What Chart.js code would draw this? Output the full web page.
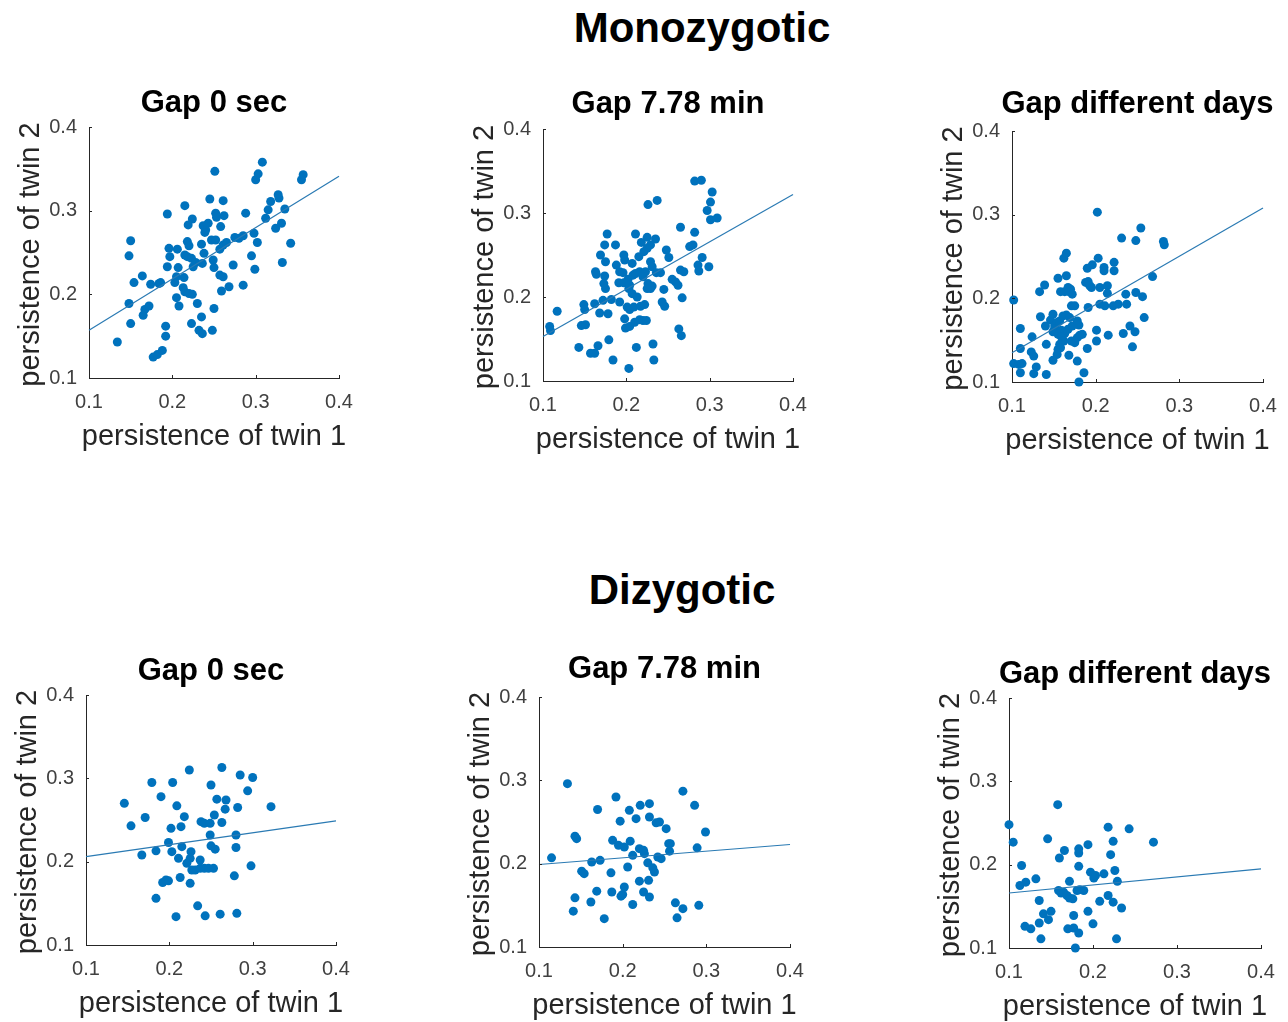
<!DOCTYPE html>
<html><head><meta charset="utf-8">
<script src="https://cdn.jsdelivr.net/npm/chart.js@4.4.1/dist/chart.umd.min.js"></script>
<style>
html,body{margin:0;padding:0;background:#fff;width:1288px;height:1022px;overflow:hidden;position:relative;font-family:"Liberation Sans",Arial,sans-serif;}
.main{position:absolute;width:600px;text-align:center;font-weight:bold;font-size:42px;line-height:42px;color:#000;white-space:nowrap;}
.panel{position:absolute;}
</style></head><body>
<div class="main" style="left:402px;top:7px">Monozygotic</div>
<div class="main" style="left:382px;top:569px">Dizygotic</div>
<script>
// ---------- data ----------
const tickVals = [0.1, 0.2, 0.3, 0.4];
const tickLabels = ['0.1', '0.2', '0.3', '0.4'];
const panelTitles = ['Gap 0 sec', 'Gap 7.78 min', 'Gap different days', 'Gap 0 sec', 'Gap 7.78 min', 'Gap different days'];
const xLabel = 'persistence of twin 1';
const yLabel = 'persistence of twin 2';
const fitX = [0.1, 0.4];

const mzGap0 = [[0.134,0.143],[0.150,0.264],[0.148,0.246],[0.154,0.214],[0.164,0.222],[0.148,0.189],[0.150,0.165],[0.165,0.175],[0.167,0.182],[0.172,0.186],[0.174,0.212],[0.184,0.213],[0.186,0.214],[0.194,0.296],[0.192,0.162],[0.192,0.150],[0.177,0.125],[0.182,0.128],[0.188,0.133],[0.196,0.255],[0.206,0.254],[0.197,0.245],[0.194,0.233],[0.207,0.232],[0.203,0.214],[0.205,0.221],[0.214,0.220],[0.205,0.196],[0.208,0.186],[0.213,0.208],[0.215,0.203],[0.220,0.201],[0.224,0.200],[0.230,0.189],[0.215,0.306],[0.224,0.290],[0.219,0.283],[0.218,0.263],[0.220,0.258],[0.215,0.247],[0.218,0.245],[0.223,0.243],[0.228,0.238],[0.225,0.233],[0.236,0.237],[0.235,0.260],[0.238,0.249],[0.237,0.282],[0.240,0.277],[0.239,0.274],[0.243,0.285],[0.245,0.314],[0.251,0.347],[0.252,0.297],[0.253,0.292],[0.258,0.281],[0.262,0.294],[0.261,0.312],[0.247,0.265],[0.252,0.265],[0.249,0.241],[0.250,0.232],[0.257,0.223],[0.261,0.221],[0.257,0.254],[0.261,0.259],[0.265,0.262],[0.273,0.235],[0.268,0.209],[0.259,0.204],[0.223,0.165],[0.235,0.173],[0.232,0.157],[0.236,0.153],[0.248,0.157],[0.250,0.183],[0.275,0.268],[0.280,0.267],[0.285,0.270],[0.288,0.297],[0.285,0.211],[0.295,0.246],[0.298,0.273],[0.302,0.262],[0.299,0.230],[0.300,0.337],[0.303,0.344],[0.308,0.358],[0.312,0.291],[0.315,0.301],[0.318,0.311],[0.327,0.319],[0.328,0.315],[0.324,0.279],[0.331,0.285],[0.335,0.302],[0.342,0.261],[0.332,0.238],[0.355,0.337],[0.357,0.343]];
const mzGap7 = [[0.108,0.165],[0.109,0.160],[0.117,0.183],[0.146,0.166],[0.151,0.167],[0.143,0.140],[0.157,0.133],[0.162,0.133],[0.166,0.142],[0.149,0.191],[0.150,0.185],[0.162,0.192],[0.168,0.181],[0.178,0.180],[0.179,0.149],[0.184,0.125],[0.172,0.196],[0.182,0.197],[0.192,0.194],[0.163,0.230],[0.164,0.227],[0.174,0.225],[0.173,0.216],[0.175,0.210],[0.169,0.250],[0.175,0.242],[0.174,0.262],[0.177,0.275],[0.187,0.262],[0.188,0.238],[0.192,0.230],[0.196,0.229],[0.197,0.250],[0.198,0.244],[0.207,0.240],[0.191,0.217],[0.197,0.217],[0.202,0.221],[0.204,0.214],[0.208,0.226],[0.203,0.210],[0.207,0.204],[0.213,0.200],[0.211,0.228],[0.216,0.230],[0.211,0.275],[0.218,0.265],[0.225,0.271],[0.235,0.269],[0.229,0.262],[0.225,0.258],[0.221,0.254],[0.215,0.248],[0.229,0.242],[0.231,0.236],[0.223,0.230],[0.220,0.224],[0.226,0.216],[0.231,0.213],[0.229,0.210],[0.225,0.210],[0.236,0.229],[0.241,0.229],[0.226,0.310],[0.237,0.315],[0.248,0.256],[0.251,0.247],[0.245,0.209],[0.243,0.194],[0.246,0.189],[0.201,0.188],[0.204,0.185],[0.209,0.188],[0.217,0.189],[0.222,0.191],[0.198,0.174],[0.199,0.163],[0.204,0.165],[0.210,0.170],[0.216,0.173],[0.220,0.172],[0.224,0.172],[0.212,0.140],[0.203,0.115],[0.232,0.144],[0.233,0.125],[0.255,0.221],[0.259,0.218],[0.262,0.214],[0.265,0.232],[0.269,0.230],[0.265,0.283],[0.282,0.277],[0.276,0.260],[0.280,0.262],[0.267,0.199],[0.263,0.162],[0.266,0.154],[0.286,0.238],[0.287,0.231],[0.291,0.247],[0.299,0.236],[0.282,0.338],[0.290,0.339],[0.303,0.325],[0.301,0.313],[0.297,0.303],[0.301,0.292],[0.309,0.294]];
const mzGapDays = [[0.102,0.198],[0.102,0.122],[0.108,0.121],[0.112,0.122],[0.110,0.111],[0.110,0.140],[0.110,0.164],[0.124,0.154],[0.123,0.136],[0.126,0.131],[0.126,0.110],[0.129,0.118],[0.141,0.109],[0.141,0.145],[0.133,0.208],[0.139,0.216],[0.134,0.178],[0.140,0.167],[0.146,0.174],[0.149,0.181],[0.149,0.160],[0.151,0.167],[0.154,0.171],[0.157,0.173],[0.161,0.179],[0.165,0.180],[0.169,0.177],[0.155,0.224],[0.165,0.227],[0.158,0.208],[0.163,0.208],[0.167,0.213],[0.170,0.211],[0.172,0.205],[0.168,0.208],[0.162,0.248],[0.165,0.254],[0.171,0.191],[0.175,0.191],[0.151,0.163],[0.155,0.157],[0.159,0.162],[0.163,0.158],[0.167,0.163],[0.172,0.167],[0.178,0.173],[0.180,0.168],[0.159,0.154],[0.162,0.149],[0.157,0.145],[0.155,0.139],[0.158,0.141],[0.154,0.133],[0.149,0.126],[0.168,0.132],[0.171,0.149],[0.175,0.147],[0.178,0.153],[0.181,0.156],[0.184,0.157],[0.178,0.125],[0.186,0.111],[0.180,0.100],[0.190,0.140],[0.191,0.189],[0.188,0.219],[0.191,0.220],[0.190,0.236],[0.196,0.240],[0.203,0.248],[0.195,0.213],[0.193,0.215],[0.205,0.213],[0.214,0.215],[0.214,0.206],[0.202,0.303],[0.210,0.237],[0.210,0.233],[0.222,0.243],[0.222,0.233],[0.205,0.193],[0.211,0.191],[0.221,0.191],[0.227,0.193],[0.237,0.193],[0.201,0.162],[0.201,0.149],[0.215,0.156],[0.233,0.158],[0.241,0.167],[0.247,0.160],[0.244,0.142],[0.231,0.272],[0.248,0.269],[0.254,0.284],[0.236,0.205],[0.248,0.207],[0.256,0.202],[0.258,0.177],[0.268,0.226],[0.281,0.268],[0.282,0.264]];
const dzGap0 = [[0.146,0.270],[0.154,0.243],[0.171,0.253],[0.167,0.208],[0.179,0.295],[0.190,0.278],[0.184,0.213],[0.204,0.295],[0.209,0.267],[0.218,0.254],[0.214,0.242],[0.202,0.240],[0.199,0.223],[0.203,0.212],[0.215,0.218],[0.211,0.204],[0.224,0.310],[0.226,0.212],[0.225,0.204],[0.221,0.198],[0.227,0.190],[0.231,0.190],[0.237,0.202],[0.238,0.248],[0.242,0.246],[0.249,0.246],[0.250,0.292],[0.249,0.232],[0.250,0.219],[0.255,0.215],[0.237,0.192],[0.242,0.192],[0.247,0.192],[0.253,0.192],[0.254,0.256],[0.263,0.313],[0.257,0.275],[0.268,0.274],[0.267,0.263],[0.263,0.247],[0.282,0.265],[0.280,0.232],[0.280,0.217],[0.278,0.183],[0.285,0.304],[0.294,0.285],[0.300,0.301],[0.298,0.195],[0.322,0.266],[0.192,0.175],[0.196,0.178],[0.199,0.177],[0.213,0.181],[0.225,0.174],[0.184,0.156],[0.208,0.134],[0.234,0.147],[0.243,0.135],[0.261,0.137],[0.281,0.138]];
const dzGap7 = [[0.115,0.207],[0.134,0.296],[0.143,0.233],[0.145,0.230],[0.151,0.191],[0.154,0.188],[0.143,0.159],[0.141,0.143],[0.162,0.154],[0.169,0.167],[0.163,0.202],[0.173,0.204],[0.170,0.265],[0.178,0.134],[0.186,0.189],[0.187,0.166],[0.188,0.228],[0.192,0.280],[0.195,0.222],[0.202,0.220],[0.209,0.227],[0.197,0.251],[0.208,0.264],[0.216,0.254],[0.221,0.270],[0.232,0.272],[0.232,0.256],[0.240,0.249],[0.244,0.250],[0.252,0.242],[0.212,0.210],[0.220,0.218],[0.225,0.216],[0.226,0.212],[0.230,0.201],[0.242,0.208],[0.246,0.206],[0.255,0.224],[0.257,0.224],[0.256,0.215],[0.206,0.196],[0.236,0.195],[0.238,0.190],[0.202,0.172],[0.200,0.163],[0.198,0.161],[0.212,0.151],[0.220,0.179],[0.231,0.180],[0.225,0.166],[0.232,0.160],[0.272,0.287],[0.286,0.270],[0.299,0.238],[0.289,0.219],[0.263,0.153],[0.272,0.146],[0.265,0.135],[0.291,0.150]];
const dzGapDays = [[0.100,0.248],[0.105,0.227],[0.115,0.199],[0.113,0.175],[0.120,0.179],[0.132,0.183],[0.119,0.126],[0.126,0.123],[0.136,0.130],[0.138,0.111],[0.136,0.157],[0.141,0.141],[0.147,0.134],[0.150,0.144],[0.146,0.231],[0.158,0.272],[0.160,0.208],[0.166,0.217],[0.172,0.180],[0.159,0.169],[0.162,0.166],[0.165,0.167],[0.169,0.163],[0.172,0.160],[0.176,0.159],[0.181,0.169],[0.184,0.170],[0.189,0.169],[0.183,0.219],[0.183,0.214],[0.183,0.198],[0.194,0.224],[0.197,0.191],[0.201,0.184],[0.203,0.187],[0.213,0.189],[0.177,0.139],[0.170,0.123],[0.177,0.124],[0.183,0.118],[0.179,0.100],[0.194,0.144],[0.200,0.129],[0.208,0.156],[0.218,0.163],[0.224,0.155],[0.234,0.148],[0.218,0.245],[0.224,0.228],[0.221,0.212],[0.226,0.193],[0.229,0.180],[0.243,0.243],[0.272,0.227],[0.228,0.111]];

const fitMzGap0 = [0.157, 0.341];
const fitMzGap7 = [0.153, 0.322];
const fitMzGapDays = [0.135, 0.308];
const fitDzGap0 = [0.206, 0.249];
const fitDzGap7 = [0.199, 0.223];
const fitDzGapDays = [0.166, 0.195];

// ---------- layout (plot-area boxes, px) ----------
const boxes = [
  {L: 89,   T: 127, W: 250, H: 251, gap: 13.3},
  {L: 543,  T: 129, W: 250, H: 252, gap: 13.5},
  {L: 1012, T: 131, W: 251, H: 251, gap: 15.7},
  {L: 86,   T: 695, W: 250, H: 250, gap: 12.5},
  {L: 539,  T: 697, W: 251, H: 250, gap: 16.7},
  {L: 1009, T: 698, W: 252, H: 250, gap: 12.5}
];
const seriesList = [mzGap0, mzGap7, mzGapDays, dzGap0, dzGap7, dzGapDays];
const fitList = [fitMzGap0, fitMzGap7, fitMzGapDays, fitDzGap0, fitDzGap7, fitDzGapDays];

const FONT = "'Liberation Sans', Arial, sans-serif";
const SIDE = 90, TOPH = 50, BOTH = 80;
const DOT = '#0072BD', FITC = '#2a7ab3', AXC = '#262626';
const TSIZE = 31, TLH = TSIZE * 1.2;
const LSIZE = 29;

const inwardTicks = {
  id: 'inwardTicks',
  afterDraw(chart) {
    const ctx = chart.ctx, a = chart.chartArea, xs = chart.scales.x, ys = chart.scales.y;
    ctx.save();
    ctx.strokeStyle = AXC; ctx.lineWidth = 1;
    ctx.beginPath();
    xs.ticks.forEach(t => { const p = Math.round(xs.getPixelForValue(t.value)) + 0.5; ctx.moveTo(p, a.bottom); ctx.lineTo(p, a.bottom - 3); });
    ys.ticks.forEach(t => { const p = Math.round(ys.getPixelForValue(t.value)) + 0.5; ctx.moveTo(a.left, p); ctx.lineTo(a.left + 3, p); });
    ctx.stroke();
    ctx.restore();
  }
};

// axis titles drawn without the scale-length width limit (reference labels are wider than the axes)
const axisLabels = {
  id: 'axisLabels',
  afterDraw(chart) {
    const ctx = chart.ctx, a = chart.chartArea;
    ctx.save();
    ctx.fillStyle = AXC;
    ctx.font = LSIZE + 'px ' + FONT;
    ctx.textAlign = 'center';
    ctx.textBaseline = 'alphabetic';
    ctx.fillText(xLabel, (a.left + a.right) / 2, a.bottom + 67);
    ctx.translate(a.left - 50, (a.top + a.bottom) / 2 + 2);
    ctx.rotate(-Math.PI / 2);
    ctx.fillText(yLabel, 0, 0);
    ctx.restore();
  }
};

function setTicks(s) { s.ticks = tickVals.map(v => ({value: v})); }

boxes.forEach((b, i) => {
  const div = document.createElement('div');
  div.className = 'panel';
  div.style.left = (b.L - SIDE) + 'px';
  div.style.top = (b.T - TOPH) + 'px';
  div.style.width = (b.W + 2 * SIDE) + 'px';
  div.style.height = (b.H + TOPH + BOTH) + 'px';
  const cv = document.createElement('canvas');
  div.appendChild(cv);
  document.body.appendChild(div);

  const mid = TOPH - b.gap - 0.3465 * TSIZE;
  const pt = mid - TLH / 2;
  const pb = TOPH - TLH - pt;

  new Chart(cv, {
    type: 'scatter',
    data: {
      datasets: [
        {
          type: 'scatter',
          data: seriesList[i].map(p => ({x: p[0], y: p[1]})),
          pointRadius: 4.5, pointHoverRadius: 4.5,
          pointBackgroundColor: DOT, pointBorderWidth: 0, pointBorderColor: DOT,
          clip: false, order: 1
        },
        {
          type: 'line',
          data: fitX.map((x, k) => ({x: x, y: fitList[i][k]})),
          borderColor: FITC, borderWidth: 1.2, pointRadius: 0, fill: false,
          showLine: true, clip: false, order: 0
        }
      ]
    },
    options: {
      responsive: true, maintainAspectRatio: false, animation: false,
      devicePixelRatio: 1,
      layout: {padding: 0, autoPadding: false},
      plugins: {
        legend: {display: false},
        tooltip: {enabled: false},
        title: {
          display: true, text: panelTitles[i], color: '#000',
          font: {family: FONT, size: TSIZE, weight: 'bold', lineHeight: 1.2},
          padding: {top: pt, bottom: pb}
        }
      },
      scales: {
        x: {
          type: 'linear', position: 'bottom', min: 0.1, max: 0.4,
          afterBuildTicks: setTicks,
          afterFit: s => { s.height = BOTH; s.paddingLeft = 0; s.paddingRight = 0; },
          grid: {display: false, drawTicks: false},
          border: {display: true, color: AXC, width: 1},
          ticks: {font: {family: FONT, size: 20}, color: '#404040', padding: 12, maxRotation: 0,
                  callback: (v, k) => tickLabels[k]},
          title: {display: false, text: xLabel}
        },
        y: {
          type: 'linear', position: 'left', min: 0.1, max: 0.4,
          afterBuildTicks: setTicks,
          afterFit: s => { s.width = SIDE; s.paddingTop = 0; s.paddingBottom = 0; },
          grid: {display: false, drawTicks: false},
          border: {display: true, color: AXC, width: 1},
          ticks: {font: {family: FONT, size: 20}, color: '#404040', padding: 12,
                  callback: (v, k) => tickLabels[k]},
          title: {display: false, text: yLabel}
        },
        yR: {
          type: 'linear', position: 'right', display: true,
          afterFit: s => { s.width = SIDE; s.paddingTop = 0; s.paddingBottom = 0; },
          grid: {display: false, drawTicks: false},
          border: {display: false},
          ticks: {display: false},
          title: {display: false}
        }
      }
    },
    plugins: [inwardTicks, axisLabels]
  });
});
</script>
</body></html>
